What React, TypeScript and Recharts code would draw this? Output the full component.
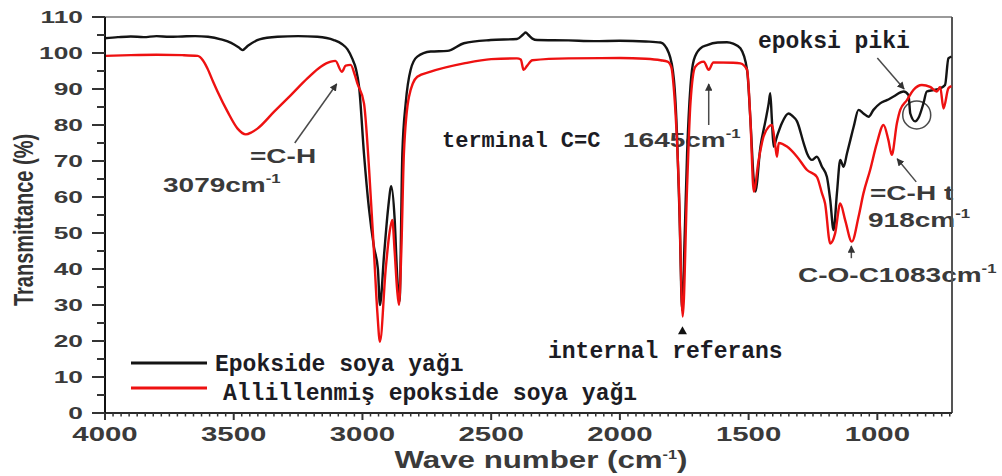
import React from "react";
import {
  LineChart,
  Line,
  XAxis,
  YAxis,
  ReferenceLine,
  Customized,
} from "recharts";

// FTIR spectra: epoxidised soybean oil vs. its allylated derivative
const BLACK_WN = [
  4000, 3950, 3900, 3850, 3800, 3750, 3700, 3650, 3600, 3550,
  3510, 3480, 3466, 3445, 3400, 3330, 3250, 3175, 3111, 3080,
  3058, 3040, 3025, 3013, 2994, 2975, 2955, 2940, 2932, 2916,
  2900, 2888, 2875, 2865, 2856, 2845, 2832, 2813, 2787, 2735,
  2670, 2606, 2502, 2400, 2375, 2366, 2355, 2340, 2321, 2200,
  2100, 2000, 1900, 1842, 1810, 1790, 1778, 1768, 1758, 1748,
  1739, 1726, 1713, 1687, 1661, 1620, 1584, 1560, 1532, 1506,
  1493, 1480, 1474, 1454, 1435, 1422, 1416, 1410, 1403, 1390,
  1371, 1345, 1330, 1312, 1286, 1273, 1254, 1235, 1215, 1196,
  1183, 1170, 1157, 1144, 1131, 1118, 1105, 1092, 1073, 1054,
  1034, 1015, 989, 963, 937, 898, 879, 872, 853, 840,
  821, 808, 782, 756, 737, 724, 712,
];
const BLACK_T = [
  104.1, 104.4, 104.6, 104.4, 104.7, 104.5, 104.6, 104.7, 104.5, 103.8,
  102.8, 101.5, 100.8, 102.0, 103.8, 104.5, 104.7, 104.5, 103.6, 102.5,
  101.0, 98.5, 95.5, 90.6, 72, 57, 46, 40, 30, 44,
  57, 63, 54, 38, 31, 72, 86, 95.3, 99, 100.4,
  100.6, 102.7, 103.6, 103.9, 105.2, 105.7, 105.0, 104.0, 103.6, 103.5,
  103.3, 103.4, 103.2, 102.9, 100.0, 92.5, 77, 54, 28.5, 50,
  72, 90.6, 98, 101.3, 102.2, 102.9, 103.0, 102.6, 101.3, 95.3,
  81.4, 64.7, 61.5, 74, 81, 86, 88.8, 82, 74, 76.8,
  80.5, 83.2, 82.5, 81, 74.9, 72.1, 70.3, 71.2, 68.4, 65.6,
  59.2, 50.8, 61, 70.3, 68.4, 72.1, 75.8, 79.5, 84.2, 83.2,
  82.3, 84.2, 86, 86.9, 87.9, 89.3, 88.3, 83.2, 81, 82,
  86, 89.3, 89.7, 90.2, 91.1, 98.5, 99,
];

const RED_WN = [
  4000, 3900, 3800, 3700, 3640, 3620, 3602, 3580, 3563, 3524,
  3485, 3453, 3430, 3408, 3343, 3278, 3213, 3162, 3123, 3105,
  3080, 3065, 3046, 3030, 3020, 2994, 2974, 2955, 2942, 2932,
  2910, 2895, 2884, 2875, 2865, 2858, 2849, 2839, 2819, 2787,
  2735, 2606, 2500, 2400, 2385, 2374, 2360, 2340, 2200, 2000,
  1900, 1842, 1815, 1800, 1791, 1771, 1756, 1739, 1726, 1707,
  1674, 1655, 1637, 1560, 1532, 1506, 1493, 1480, 1461, 1442,
  1422, 1409, 1396, 1390, 1383, 1351, 1312, 1273, 1235, 1215,
  1203, 1183, 1164, 1144, 1125, 1099, 1073, 1054, 1028, 1002,
  976, 957, 944, 924, 911, 885, 860, 827, 795, 769,
  756, 743, 724, 712,
];
const RED_T = [
  99.2, 99.4, 99.5, 99.4, 99.2, 98, 95.7, 92, 89.3, 83.7,
  79, 77.4, 78, 79, 83.7, 88.3, 93, 96.2, 97.6, 97.8,
  94.8, 96.5, 96.7, 94, 91.6, 86, 67.5, 44.4, 27.8, 19.8,
  39.7, 50, 53.6, 45, 34, 30, 45, 72, 87.9, 93.4,
  94.8, 97.1, 98.3, 98.5, 98.2, 95.3, 96.5, 98, 98.5, 98.6,
  98.4, 98.0, 97.6, 96, 90.6, 62.9, 26.8, 62.9, 86, 96.2,
  97.6, 95.3, 97.4, 97.3, 97.1, 95.3, 81.4, 61.5, 70.3, 76.8,
  79.5, 80, 74, 71.2, 75, 74, 71.2, 67.5, 65.6, 61,
  58.2, 47.1, 49.9, 58.2, 53.6, 47.6, 54.5, 61, 67.5, 74.9,
  80, 75.8, 71.7, 80.5, 84.2, 86.9, 89.7, 91.1, 90.6, 89.3,
  90.6, 84.6, 90.2, 90.8,
];

const SERIES_NAMES = ["Epokside soya yağı", "Allillenmiş epokside soya yağı"];
const WN_MAJOR = [4000, 3500, 3000, 2500, 2000, 1500, 1000];
const T_MAJOR = [0, 10, 20, 30, 40, 50, 60, 70, 80, 90, 100, 110];

const WN_MIN = 710;
const WN_MAX = 4000;

// layout
const W = 1002;
const H = 476;
const LEFT = 105;
const RIGHT = 952;
const TOP = 17;
const BOTTOM = 413;

const SANS = "'Liberation Sans', Arial, sans-serif";
const MONO = "'Liberation Mono', 'Courier New', monospace";
const INK = "#3a3a3a";

const zip = (xs: number[], ys: number[]) => xs.map((wn, i) => ({ wn, t: ys[i] }));
const black = zip(BLACK_WN, BLACK_T);
const red = zip(RED_WN, RED_T);

const wnTicks: number[] = [];
for (let v = WN_MAX; v >= WN_MIN; v -= 500 / 16) wnTicks.push(v);
const tTicks: number[] = [];
for (let v = 0; v <= 110; v += 5) tTicks.push(v);

const px = (wn: number) => LEFT + ((WN_MAX - wn) / (WN_MAX - WN_MIN)) * (RIGHT - LEFT);
const py = (t: number) => BOTTOM - (t / 110) * (BOTTOM - TOP);

// stretched bold sans label, the figure's original lettering is wide
function Wide({ x, y, size = 20, k = 1.4, anchor = "start", children }: any) {
  return (
    <text
      transform={`translate(${x} ${y}) scale(${k} 1)`}
      fontFamily={SANS}
      fontWeight="bold"
      fontSize={size}
      fill={INK}
      textAnchor={anchor}
    >
      {children}
    </text>
  );
}

const Sup = ({ children }: any) => (
  <tspan fontSize={12} dy={-9}>
    {children}
  </tspan>
);

function Mono({ x, y, children, size = 23 }: any) {
  return (
    <text x={x} y={y} fontFamily={MONO} fontWeight="bold" fontSize={size} fill="#1c1c24">
      {children}
    </text>
  );
}

function XTick(props: any) {
  const { x, payload } = props;
  const v = payload.value;
  const major = WN_MAJOR.some((m) => Math.abs(m - v) < 0.01);
  return (
    <g>
      <line x1={x} x2={x} y1={BOTTOM} y2={BOTTOM + (major ? 7 : 3.5)} stroke="#333" strokeWidth={major ? 2 : 1.5} />
      {major && (
        <Wide x={x} y={441} size={21} k={1.4} anchor="middle">
          {Math.round(v)}
        </Wide>
      )}
    </g>
  );
}

function YTick(props: any) {
  const { y, payload } = props;
  const v = payload.value;
  const major = T_MAJOR.includes(v);
  return (
    <g>
      <line x1={LEFT - (major ? 13 : 8)} x2={LEFT} y1={y} y2={y} stroke="#333" strokeWidth={2} />
      {major && (
        <Wide x={83} y={y + 6} size={17} k={1.55} anchor="end">
          {v}
        </Wide>
      )}
    </g>
  );
}

function Arrow({ from, to }: { from: [number, number]; to: [number, number] }) {
  return (
    <line
      x1={px(from[0])}
      y1={py(from[1])}
      x2={px(to[0])}
      y2={py(to[1])}
      stroke="#4a4a4a"
      strokeWidth={1.5}
      markerEnd="url(#head)"
    />
  );
}

function Annotations() {
  const tri = { x: px(1757), y: py(23) };
  return (
    <g>
      <defs>
        <marker id="head" viewBox="0 0 10 10" refX="9" refY="5" markerWidth="5" markerHeight="5" orient="auto">
          <path d="M0,0 L10,5 L0,10 z" fill="#333" />
        </marker>
      </defs>

      {/* axis titles */}
      <text
        transform={`translate(33 220) scale(1.36 1) rotate(-90)`}
        fontFamily={SANS}
        fontWeight="bold"
        fontSize={20}
        fill="#333"
        textAnchor="middle"
      >
        Transmittance (%)
      </text>
      <Wide x={541} y={468} size={23} k={1.36} anchor="middle">
        Wave number (cm<Sup>-1</Sup>
        <tspan dy={9}>)</tspan>
      </Wide>

      {/* peak labels */}
      <Arrow from={[3263, 75]} to={[3100, 91.4]} />
      <Wide x={250} y={163}>=C-H</Wide>
      <Wide x={163} y={192}>
        3079cm<Sup>-1</Sup>
      </Wide>

      <Arrow from={[1655, 80]} to={[1655, 91.4]} />
      <Mono x={442} y={147} size={22}>terminal C=C</Mono>
      <Wide x={623} y={147}>
        1645cm<Sup>-1</Sup>
      </Wide>

      <Mono x={758} y={48}>epoksi piki</Mono>
      <Arrow from={[1000, 98.6]} to={[896, 90]} />
      <circle cx={px(847)} cy={py(82.8)} r={14} fill="none" stroke="#4a4a4a" strokeWidth={1.5} />

      <Arrow from={[849, 64.2]} to={[923, 70.6]} />
      <Wide x={870} y={200}>=C-H t</Wide>
      <Wide x={868} y={227}>
        918cm<Sup>-1</Sup>
      </Wide>

      <Arrow from={[1101, 43]} to={[1101, 46.4]} />
      <Wide x={798} y={282}>
        C-O-C1083cm<Sup>-1</Sup>
      </Wide>

      <polygon
        points={`${tri.x - 4.5},${tri.y + 4} ${tri.x + 4.5},${tri.y + 4} ${tri.x},${tri.y - 4}`}
        fill="#111"
      />
      <Mono x={548} y={358}>internal referans</Mono>

      {/* legend */}
      <line x1={131} x2={207} y1={363} y2={363} stroke="#141414" strokeWidth={3} />
      <Mono x={215} y={371}>{SERIES_NAMES[0]}</Mono>
      <line x1={131} x2={207} y1={388} y2={388} stroke="#ee1111" strokeWidth={3} />
      <Mono x={223} y={400}>{SERIES_NAMES[1]}</Mono>
    </g>
  );
}

export default function App() {
  return (
    <div style={{ position: "absolute", left: 0, top: 0, width: W, height: H, background: "#fff" }}>
      <LineChart width={W} height={H} margin={{ top: TOP, right: W - RIGHT, bottom: 0, left: 0 }}>
        <XAxis
          type="number"
          dataKey="wn"
          domain={[WN_MIN, WN_MAX]}
          reversed
          allowDataOverflow
          ticks={wnTicks}
          interval={0}
          tick={<XTick />}
          tickLine={false}
          axisLine={{ stroke: "#2a2a2a", strokeWidth: 2 }}
          height={H - BOTTOM}
        />
        <YAxis
          type="number"
          domain={[0, 110]}
          ticks={tTicks}
          interval={0}
          tick={<YTick />}
          tickLine={false}
          axisLine={{ stroke: "#111", strokeWidth: 2 }}
          width={LEFT}
        />
        <ReferenceLine y={110} stroke="#9a9a9a" strokeWidth={2} />
        <ReferenceLine x={WN_MIN} stroke="#555" strokeWidth={2} />
        <Line
          data={black}
          dataKey="t"
          name={SERIES_NAMES[0]}
          type="monotone"
          stroke="#141414"
          strokeWidth={2.4}
          dot={false}
          isAnimationActive={false}
        />
        <Line
          data={red}
          dataKey="t"
          name={SERIES_NAMES[1]}
          type="monotone"
          stroke="#ee1111"
          strokeWidth={2.4}
          dot={false}
          isAnimationActive={false}
        />
        <Customized component={Annotations} />
      </LineChart>
    </div>
  );
}
